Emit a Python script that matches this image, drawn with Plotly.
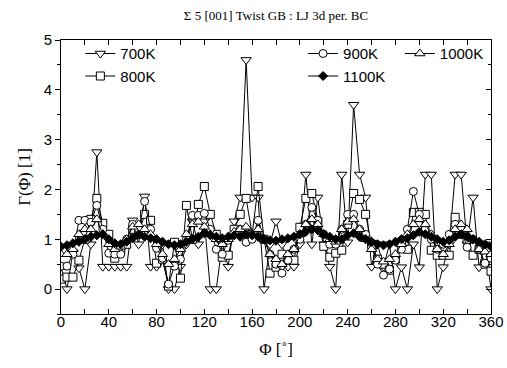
import plotly.graph_objects as go

phi = list(range(0, 361, 5))

g700 = [0.45, 0, 0.74, 0.42, 0, 0.9, 2.75, 0.45, 0.45, 0.45, 0.45, 0.45, 1.38, 0.9, 1.86, 0.45, 0.45, 0.9,
        0, 0, 0.45, 0.9, 1.36, 0.9, 1.36, 0, 0, 0.9, 0.45, 1.36, 1.84, 4.6, 1.84, 1.84, 0, 0.9,
        1.36, 0.9, 0.45, 0.45, 0.9, 2.3, 0.9, 1.84, 0.9, 0.45, 0, 2.3, 0.94, 3.7, 2.3, 1.84, 0.45, 0.9,
        0.45, 0.9, 0, 0.44, 0, 0.9, 0.44, 2.3, 2.3, 0, 0.44, 0.9, 2.3, 2.3, 0.9, 1.84, 0.44, 0.9, 0]

g800 = [0.2, 0.24, 0.24, 0.58, 1.0, 1.4, 1.82, 1.32, 1.1, 0.62, 0.78, 0.9, 1.2, 1.1, 1.5, 1.38, 0.52, 0.6,
        0.06, 0.94, 0.22, 1.68, 1.0, 1.7, 2.06, 1.5, 1.1, 0.64, 0.68, 1.2, 1.5, 1.82, 1.1, 2.06, 1.0, 0.32,
        0.44, 0.7, 0.6, 0.58, 1.24, 1.82, 1.92, 1.36, 0.86, 0.64, 0.72, 0.78, 1.3, 1.92, 1.8, 1.5, 0.9, 0.6,
        0.5, 0.38, 0.6, 0.9, 0.8, 1.54, 1.54, 1.5, 0.78, 0.68, 0.68, 0.68, 1.44, 1.1, 1.0, 0.68, 0.8, 0.5, 0.36]

g900 = [0.46, 0.46, 0.7, 1.38, 1.38, 1.34, 1.68, 1.2, 0.72, 0.7, 0.7, 1.0, 1.3, 1.2, 1.76, 1.2, 0.82, 0.62,
        0.1, 0.46, 0.6, 1.0, 1.48, 1.48, 1.52, 1.2, 0.8, 0.7, 0.98, 1.1, 1.2, 0.94, 1.0, 1.38, 1.0, 0.7,
        0.5, 0.32, 0.58, 0.8, 1.0, 1.3, 1.64, 1.38, 1.1, 0.9, 0.9, 1.2, 1.5, 1.5, 1.2, 1.1, 0.84, 0.5,
        0.28, 0.4, 0.58, 0.8, 1.2, 1.96, 1.5, 1.2, 1.0, 0.8, 0.9, 1.1, 1.3, 1.2, 0.84, 1.0, 0.8, 0.52, 0.62]

g1000 = [0.7, 0.7, 0.8, 1.1, 1.2, 1.2, 1.4, 1.1, 0.9, 0.8, 0.85, 1.0, 1.25, 1.3, 1.2, 1.1, 0.9, 0.7,
         0.5, 0.6, 0.8, 1.1, 1.3, 1.35, 1.25, 1.1, 1.0, 0.9, 1.0, 1.15, 1.2, 1.25, 1.1, 1.2, 1.0, 0.7,
         0.6, 0.5, 0.7, 0.8, 1.1, 1.3, 1.4, 1.3, 1.1, 1.0, 0.95, 1.2, 1.35, 1.4, 1.2, 1.0, 0.8, 0.6,
         0.55, 0.6, 0.7, 0.9, 1.1, 1.3, 1.4, 1.3, 1.1, 0.8, 0.7, 0.9, 1.2, 1.3, 1.2, 1.0, 0.8, 0.75, 0.7]

g1100 = [0.85, 0.88, 0.92, 0.95, 1.0, 1.05, 1.08, 1.1, 1.0, 0.92, 0.9, 0.95, 1.02, 1.1, 1.05, 1.02, 1.0, 0.95,
         0.9, 0.88, 0.9, 0.95, 1.0, 1.05, 1.12, 1.08, 1.05, 1.02, 1.05, 1.08, 1.05, 1.1, 1.08, 1.05, 1.0, 0.98,
         0.97, 1.0, 1.02, 1.05, 1.1, 1.15, 1.2, 1.18, 1.1, 1.05, 1.0, 1.0, 1.08, 1.12, 1.05, 1.0, 0.95, 0.9,
         0.88, 0.9, 0.95, 1.0, 1.02, 1.08, 1.15, 1.1, 1.05, 1.0, 0.95, 0.98, 1.05, 1.1, 1.05, 1.0, 0.95, 0.9, 0.85]

x_ticks = [0, 40, 80, 120, 160, 200, 240, 280, 320, 360]
y_ticks = [0, 1, 2, 3, 4, 5]

series = [
    ("700K", g700, "triangle-down", "white", 9, "legend"),
    ("800K", g800, "square", "white", 8, "legend"),
    ("900K", g900, "circle", "white", 8, "legend2"),
    ("1000K", g1000, "triangle-up", "white", 9, "legend3"),
    ("1100K", g1100, "diamond", "black", 7, "legend2"),
]

fig = go.Figure()
for name, vals, sym, fill, sz, lg in series:
    fig.add_trace(go.Scatter(
        x=phi, y=vals, name=name, mode="lines+markers",
        line=dict(color="black", width=1),
        marker=dict(symbol=sym, size=sz, color=fill, line=dict(color="black", width=1)),
        legend=lg,
    ))

sans = "Liberation Sans, Arial, sans-serif"
serif = "Liberation Serif, Times New Roman, serif"
legend_common = dict(font=dict(family=sans, size=15, color="black"), bgcolor="rgba(0,0,0,0)",
                     yanchor="top", xanchor="left", tracegroupgap=0, itemsizing="trace")

fig.update_layout(
    width=507, height=368,
    margin=dict(l=61, r=16, t=40, b=54),
    paper_bgcolor="white", plot_bgcolor="white",
    title=dict(text="Σ 5 [001] Twist GB : LJ 3d per. BC", x=276/507, xanchor="center",
               y=1 - 15/368, yanchor="middle", font=dict(family=serif, size=13, color="black")),
    legend=dict(x=0.045, y=1.01, **legend_common),
    legend2=dict(x=0.563, y=1.01, **legend_common),
    legend3=dict(x=0.788, y=1.01, **legend_common),
    xaxis=dict(range=[0, 360], tickvals=x_ticks, ticks="inside", ticklen=5, tickcolor="black",
               showline=True, linecolor="black", linewidth=1, mirror="allticks", showgrid=False,
               zeroline=False, automargin=False, tickfont=dict(family=sans, size=15, color="black"),
               ticklabelstandoff=-6,
               minor=dict(dtick=20, ticks="inside", ticklen=3, tickcolor="black"),
               title=dict(text="Φ [˚]", font=dict(family=serif, size=17, color="black"), standoff=14)),
    yaxis=dict(range=[-0.5, 5], tickvals=y_ticks, ticks="outside", ticklen=5, tickcolor="black",
               showline=True, linecolor="black", linewidth=1, mirror=True, showgrid=False,
               zeroline=False, automargin=False, tickfont=dict(family=sans, size=15, color="black"),
               minor=dict(dtick=0.5, ticks="outside", ticklen=3, tickcolor="black"),
               title=dict(text="Γ(Φ) [1]", font=dict(family=serif, size=17, color="black"), standoff=8)),
    yaxis2=dict(range=[-0.5, 5], tickvals=y_ticks, ticks="inside", ticklen=5, tickcolor="black",
                overlaying="y", side="right", showticklabels=False, showgrid=False, zeroline=False,
                automargin=False,
                minor=dict(dtick=0.5, ticks="inside", ticklen=3, tickcolor="black")),
)
fig.add_trace(go.Scatter(x=[None], y=[None], yaxis="y2", showlegend=False, hoverinfo="skip"))

fig.write_html("out.html", config={"displayModeBar": False},
               post_script="document.body.style.margin='0';")
